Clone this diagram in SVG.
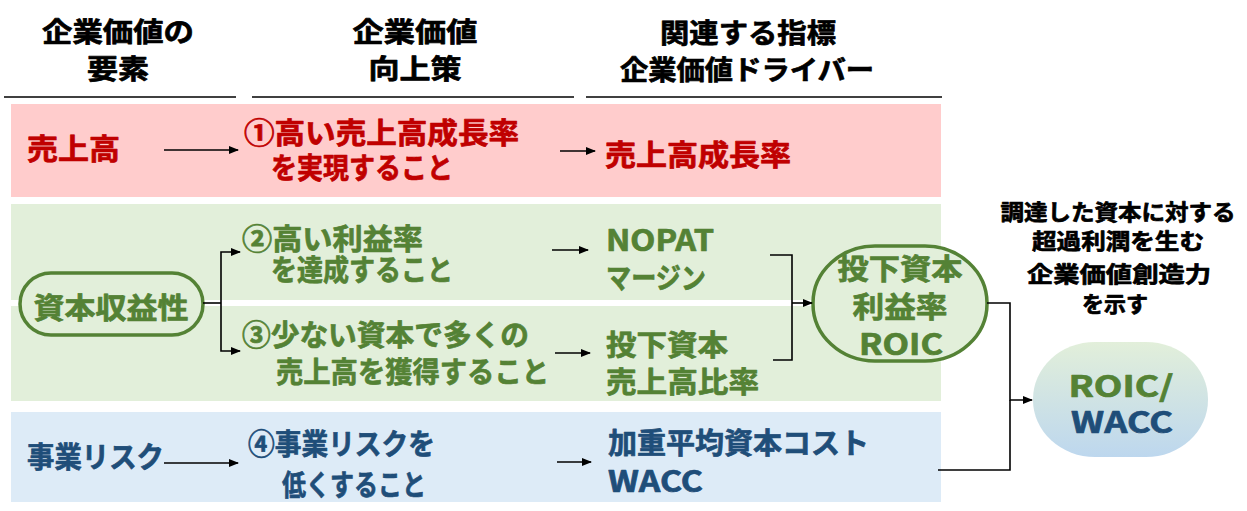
<svg xmlns="http://www.w3.org/2000/svg" width="1247" height="511" viewBox="0 0 1247 511">
<style>
text{font-family:"Noto Sans CJK JP","Noto Sans",sans-serif;font-weight:bold;dominant-baseline:central;stroke-width:0.7;stroke-linejoin:round}
.h{font-size:27px;fill:#000;stroke:#000}
.b{font-size:29px}
.r{fill:#C00000;stroke:#C00000}
.g{fill:#548235;stroke:#548235}
.n{fill:#1F4E79;stroke:#1F4E79}
.s{font-size:22px;fill:#000;stroke:#000}
.c{text-anchor:middle}
.ln{stroke:#000;stroke-width:1.6;fill:none}
.ar{stroke:#000;stroke-width:1.6;fill:none;marker-end:url(#ah)}
</style>
<defs>
<marker id="ah" markerWidth="10" markerHeight="8" refX="9" refY="4" orient="auto" markerUnits="userSpaceOnUse">
<path d="M0,0 L10,4 L0,8 Z" fill="#000"/>
</marker>
<linearGradient id="gw" x1="0" y1="0" x2="0" y2="1">
<stop offset="0" stop-color="#E2EFDA"/>
<stop offset="1" stop-color="#BDD7EE"/>
</linearGradient>
</defs>
<rect width="1247" height="511" fill="#fff"/>
<g id="bands">
<rect x="11" y="104" width="930" height="93" fill="#FFCCCC"/>
<rect x="11" y="204" width="930" height="96" fill="#E2EFDA"/>
<rect x="11" y="306" width="930" height="95" fill="#E2EFDA"/>
<rect x="11" y="412" width="930" height="90" fill="#DDEBF7"/>
</g>
<g id="headers">
<text class="h c" x="118" y="30" textLength="152" lengthAdjust="spacingAndGlyphs">企業価値の</text>
<text class="h c" x="118" y="67" textLength="62" lengthAdjust="spacingAndGlyphs">要素</text>
<text class="h c" x="415" y="30" textLength="125" lengthAdjust="spacingAndGlyphs">企業価値</text>
<text class="h c" x="415" y="67" textLength="93" lengthAdjust="spacingAndGlyphs">向上策</text>
<text class="h c" x="748" y="31" textLength="176" lengthAdjust="spacingAndGlyphs">関連する指標</text>
<text class="h c" x="747" y="68" textLength="254" lengthAdjust="spacingAndGlyphs">企業価値ドライバー</text>
<line class="ln" x1="4" y1="97" x2="236" y2="97"/>
<line class="ln" x1="252" y1="97" x2="574" y2="97"/>
<line class="ln" x1="586" y1="97" x2="942" y2="97"/>
</g>
<g id="node-uriage">
<text class="b r" x="27" y="147" textLength="93" lengthAdjust="spacingAndGlyphs">売上高</text>
</g>
<g id="node-saku1">
<text class="b r" x="244" y="131" textLength="275" lengthAdjust="spacingAndGlyphs">①高い売上高成長率</text>
<text class="b r" x="271" y="166" textLength="182" lengthAdjust="spacingAndGlyphs">を実現すること</text>
</g>
<g id="node-driver1">
<text class="b r" x="605" y="153" textLength="186" lengthAdjust="spacingAndGlyphs">売上高成長率</text>
</g>
<g id="node-shihon">
<rect x="20" y="273" width="183" height="62" rx="31" ry="31" fill="#E2EFDA" stroke="#548235" stroke-width="3.5"/>
<text class="b g c" x="111" y="306" textLength="155" lengthAdjust="spacingAndGlyphs">資本収益性</text>
</g>
<g id="node-saku2">
<text class="b g" x="242" y="237" textLength="181" lengthAdjust="spacingAndGlyphs">②高い利益率</text>
<text class="b g" x="271" y="268" textLength="182" lengthAdjust="spacingAndGlyphs">を達成すること</text>
</g>
<g id="node-saku3">
<text class="b g" x="242" y="333" textLength="287" lengthAdjust="spacingAndGlyphs">③少ない資本で多くの</text>
<text class="b g" x="276" y="370" textLength="273" lengthAdjust="spacingAndGlyphs">売上高を獲得すること</text>
</g>
<g id="node-nopat">
<text class="b g" x="606" y="238" textLength="108" lengthAdjust="spacingAndGlyphs">NOPAT</text>
<text class="b g" x="606" y="276" textLength="100" lengthAdjust="spacingAndGlyphs">マージン</text>
</g>
<g id="node-kaiten">
<text class="b g" x="606" y="343" textLength="122" lengthAdjust="spacingAndGlyphs">投下資本</text>
<text class="b g" x="606" y="380" textLength="153" lengthAdjust="spacingAndGlyphs">売上高比率</text>
</g>
<g id="node-roic">
<rect x="813" y="246" width="174" height="115" rx="62" ry="57" fill="#E2EFDA" stroke="#548235" stroke-width="3.5"/>
<text class="b g c" x="900" y="267" textLength="125" lengthAdjust="spacingAndGlyphs">投下資本</text>
<text class="b g c" x="900" y="305" textLength="95" lengthAdjust="spacingAndGlyphs">利益率</text>
<text class="b g c" x="901" y="342" textLength="84" lengthAdjust="spacingAndGlyphs">ROIC</text>
</g>
<g id="node-risk">
<text class="b n" x="27" y="455" textLength="137" lengthAdjust="spacingAndGlyphs">事業リスク</text>
</g>
<g id="node-saku4">
<text class="b n" x="248" y="442" textLength="187" lengthAdjust="spacingAndGlyphs">④事業リスクを</text>
<text class="b n" x="282" y="483" textLength="144" lengthAdjust="spacingAndGlyphs">低くすること</text>
</g>
<g id="node-wacc">
<text class="b n" x="608" y="441" textLength="261" lengthAdjust="spacingAndGlyphs">加重平均資本コスト</text>
<text class="b n" x="608" y="479" textLength="95" lengthAdjust="spacingAndGlyphs">WACC</text>
</g>
<g id="node-note">
<text class="s c" x="1118" y="210" textLength="235" lengthAdjust="spacingAndGlyphs">調達した資本に対する</text>
<text class="s c" x="1118" y="239" textLength="172" lengthAdjust="spacingAndGlyphs">超過利潤を生む</text>
<text class="s c" x="1119" y="272" textLength="184" lengthAdjust="spacingAndGlyphs">企業価値創造力</text>
<text class="s c" x="1115" y="302" textLength="66" lengthAdjust="spacingAndGlyphs">を示す</text>
</g>
<g id="node-roicwacc">
<rect x="1033" y="342" width="175" height="115" rx="62" ry="57" fill="url(#gw)"/>
<text class="b g c" x="1121" y="384" textLength="105" lengthAdjust="spacingAndGlyphs">ROIC/</text>
<text class="b n c" x="1122" y="420" textLength="102" lengthAdjust="spacingAndGlyphs">WACC</text>
</g>
<g id="connectors">
<path class="ar" d="M164,150 H238"/>
<path class="ar" d="M560,151 H595"/>
<path class="ln" d="M203,303 H221"/>
<path class="ar" d="M221,303 V252 H240"/>
<path class="ar" d="M221,303 V351 H240"/>
<path class="ar" d="M552,250 H588"/>
<path class="ar" d="M555,353 H590"/>
<path class="ln" d="M770,255 H792 V360 H773"/>
<path class="ar" d="M792,303 H812"/>
<path class="ar" d="M987,303 H1010 V400 H1032"/>
<path class="ln" d="M938,470 H1010 V400"/>
<path class="ar" d="M164,463 H238"/>
<path class="ar" d="M557,462 H591"/>
</g>
</svg>
